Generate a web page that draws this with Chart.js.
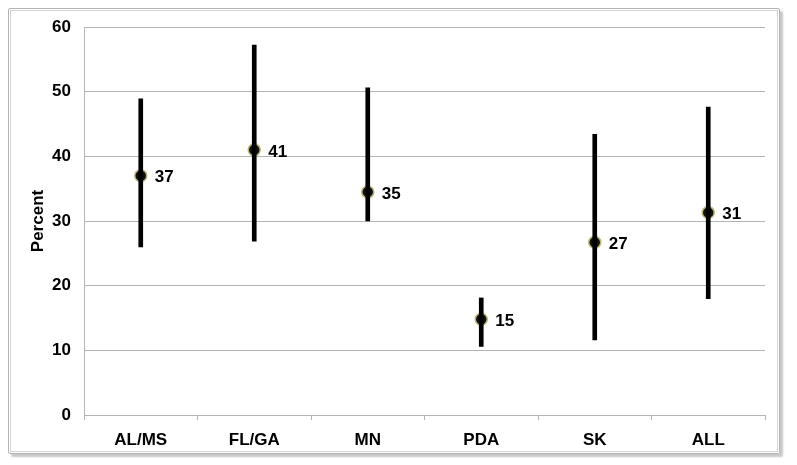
<!DOCTYPE html>
<html>
<head>
<meta charset="utf-8">
<script src="https://cdn.jsdelivr.net/npm/chart.js@4/dist/chart.umd.min.js"></script>
<style>
  body { margin: 0; background: #fff; }
  #wrap { position: relative; width: 797px; height: 465px; }
  #frame {
    position: absolute; left: 8px; top: 8px; width: 770px; height: 444px;
    border: 1px solid #b4b4b4; border-radius: 2px;
    box-shadow: 3px 3px 2px #c8c8c8;
  }
  #frame2 {
    position: absolute; left: 10px; top: 10px; width: 766px; height: 440px;
    border: 1px solid #d4d4d4;
  }
  canvas { position: absolute; left: 0; top: 0; }
</style>
</head>
<body>
<div id="wrap">
  <div id="frame"></div>
  <div id="frame2"></div>
  <canvas id="chart" width="797" height="465"></canvas>
</div>
<script>
// categories and values
const groups = ["AL/MS", "FL/GA", "MN", "PDA", "SK", "ALL"];
const pointValues = [37, 41, 34.5, 14.8, 26.7, 31.3];
const lowValues = [26.0, 26.9, 30.0, 10.6, 11.6, 18.0];
const highValues = [48.9, 57.2, 50.6, 18.1, 43.4, 47.6];
const pointLabels = ["37", "41", "35", "15", "27", "31"];
const yTicks = [0, 10, 20, 30, 40, 50, 60];

const fontFamily = "'Liberation Sans', Arial, sans-serif";

// draws the number next to each point
const pointLabelPlugin = {
  id: "pointLabels",
  afterDatasetsDraw(chart) {
    const meta = chart.getDatasetMeta(1);
    const ctx = chart.ctx;
    ctx.save();
    ctx.font = "bold 17px " + fontFamily;
    ctx.fillStyle = "#000";
    ctx.textAlign = "left";
    ctx.textBaseline = "middle";
    meta.data.forEach((pt, i) => {
      ctx.fillText(pointLabels[i], pt.x + 14, pt.y + 2);
    });
    ctx.restore();
  }
};

new Chart(document.getElementById("chart"), {
  type: "bar",
  data: {
    labels: groups,
    datasets: [
      {
        type: "bar",
        data: groups.map((g, i) => [lowValues[i], highValues[i]]),
        backgroundColor: "#000",
        barThickness: 4,
        borderWidth: 0
      },
      {
        type: "line",
        data: pointValues,
        showLine: false,
        pointRadius: 6,
        pointBackgroundColor: "#121212",
        pointBorderColor: "#bdb878",
        pointBorderWidth: 1.5
      }
    ]
  },
  options: {
    responsive: false,
    animation: false,
    layout: { padding: { left: 28, right: 32, top: 27, bottom: 0 } },
    plugins: { legend: { display: false }, tooltip: { enabled: false } },
    scales: {
      x: {
        offset: true,
        grid: { offset: true, drawOnChartArea: false, drawTicks: true, tickLength: 5, color: "#b4b4b4" },
        border: { color: "#b4b4b4", width: 1 },
        ticks: { color: "#000", font: { family: fontFamily, size: 17, weight: "bold" }, padding: 10 },
        afterFit: s => { s.height = 50; }
      },
      y: {
        min: 0,
        max: 60,
        afterBuildTicks: s => { s.ticks = yTicks.map(v => ({ value: v })); },
        grid: { color: "#b4b4b4", drawTicks: false },
        border: { color: "#b4b4b4", width: 1 },
        ticks: { color: "#000", font: { family: fontFamily, size: 17, weight: "bold" }, padding: 13 },
        title: {
          display: true,
          text: "Percent",
          color: "#000",
          font: { family: fontFamily, size: 17, weight: "bold" },
          padding: 0
        },
        afterFit: s => { s.width = 56; }
      }
    }
  },
  plugins: [pointLabelPlugin]
});
</script>
</body>
</html>
